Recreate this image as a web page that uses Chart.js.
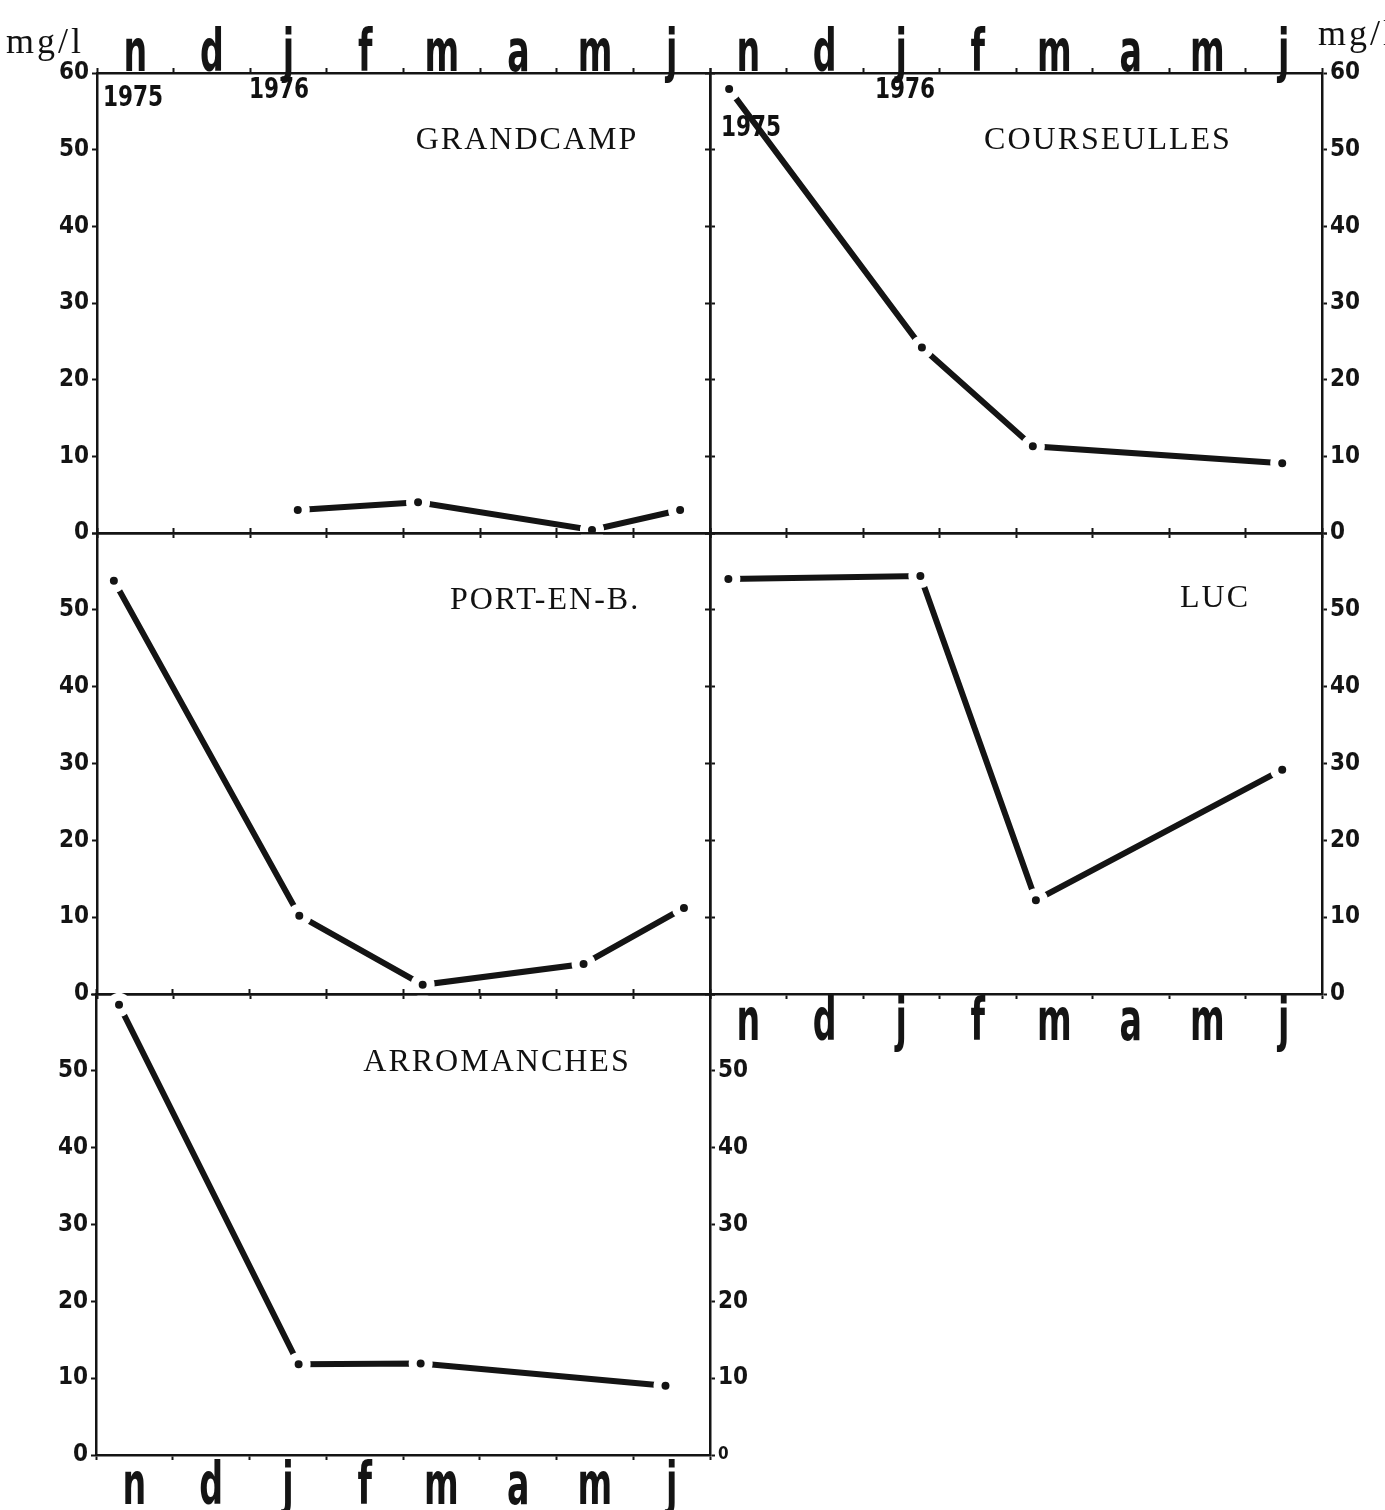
<!DOCTYPE html>
<html><head><meta charset="utf-8">
<script src="https://cdn.jsdelivr.net/npm/chart.js@4.4.1/dist/chart.umd.min.js"></script>
<style>
html,body{margin:0;padding:0;background:#fff;overflow:hidden;width:1385px;height:1510px;position:relative;}
canvas{position:absolute;}
.t{position:absolute;font-family:"Liberation Serif","DejaVu Serif",serif;color:#111;white-space:nowrap;transform:translate(-50%,-50%);font-size:32px;letter-spacing:2px;}
.yr{position:absolute;font-family:"Liberation Sans Narrow","DejaVu Sans Condensed",sans-serif;font-weight:bold;color:#111;white-space:nowrap;transform:translate(-50%,-50%) scaleY(1.15);font-size:24px;}
.mg{position:absolute;font-family:"Liberation Serif","DejaVu Serif",serif;color:#111;font-size:36px;letter-spacing:3px;white-space:nowrap;}
</style></head><body>
<script>
// ---- data ----
const months = ['n','d','j','f','m','a','m','j'];
const monthEdges = [0,1,2,3,4,5,6,7,8];
const yTicks = [0,10,20,30,40,50,60];

const grandcampX = [2.62, 4.19, 6.46, 7.61];
const grandcampY = [3.0, 4.0, 0.4, 3.0];

const courseullesX = [0.25, 2.77, 4.22, 7.48];
const courseullesY = [57.9, 24.2, 11.3, 9.1];

const portX = [0.22, 2.64, 4.25, 6.35, 7.66];
const portY = [53.8, 10.2, 1.2, 3.9, 11.2];

const lucX = [0.24, 2.75, 4.26, 7.48];
const lucY = [54.0, 54.4, 12.2, 29.2];

const arroX = [0.30, 2.64, 4.23, 7.42];
const arroY = [58.6, 11.8, 11.9, 9.0];

const titles = ['GRANDCAMP','COURSEULLES','PORT-EN-B.','LUC','ARROMANCHES'];
const years = ['1975','1976'];
const unit = 'mg/l';

// ---- drawing ----
const INK = '#141414';
const NARROW = '"Liberation Sans Narrow","DejaVu Sans Condensed",sans-serif';
const PADX = 100, PADY = 80;

const monthPlugin = {
  id: 'monthLabels',
  afterDraw(chart, args, opts) {
    if (!opts || !opts.where) return;
    const xs = chart.scales.x, ca = chart.chartArea, ctx = chart.ctx;
    ctx.save();
    ctx.fillStyle = INK;
    ctx.font = 'bold 37px ' + NARROW;
    ctx.textAlign = 'center';
    ctx.textBaseline = 'alphabetic';
    months.forEach((m, i) => {
      const x = xs.getPixelForValue((monthEdges[i] + monthEdges[i + 1]) / 2);
      const y = opts.where === 'top' ? ca.top - 2 : ca.bottom + opts.offset;
      ctx.save();
      ctx.translate(x, y);
      ctx.scale(1, 1.6);
      ctx.fillText(m, 0, 0);
      ctx.restore();
    });
    ctx.restore();
  }
};

function xAxis(pos) {
  return {
    type: 'linear', position: pos, min: 0, max: 8,
    afterBuildTicks: s => { s.ticks = monthEdges.map(v => ({ value: v })); },
    ticks: { display: false },
    grid: { drawOnChartArea: false, drawTicks: true, tickLength: 5, tickColor: INK, tickWidth: 2 },
    border: { display: true, color: INK, width: 2.5 },
    afterFit: s => { s.height = PADY; }
  };
}
function yAxis(pos, show, maxLabel, smallZero) {
  return {
    type: 'linear', position: pos, min: 0, max: 60,
    afterBuildTicks: s => { s.ticks = yTicks.map(v => ({ value: v })); },
    ticks: {
      display: show, color: INK, padding: 3,
      font: c => ({ family: NARROW, weight: 'bold', size: (smallZero && c.tick && c.tick.value === 0) ? 17 : 24 }),
      callback: v => (v <= maxLabel ? String(v) : '')
    },
    grid: { drawOnChartArea: false, drawTicks: true, tickLength: 5, tickColor: INK, tickWidth: 2 },
    border: { display: true, color: INK, width: 2.5 },
    afterFit: s => { s.width = PADX; }
  };
}

function panel(rect, xs, ys, cfg) {
  const cv = document.createElement('canvas');
  cv.width = rect.w + 2 * PADX; cv.height = rect.h + 2 * PADY;
  cv.style.left = (rect.l - PADX) + 'px'; cv.style.top = (rect.t - PADY) + 'px';
  cv.style.width = cv.width + 'px'; cv.style.height = cv.height + 'px';
  document.body.appendChild(cv);
  new Chart(cv, {
    type: 'scatter',
    data: { datasets: [{
      data: xs.map((x, i) => ({ x: x, y: ys[i] })),
      showLine: true, borderColor: INK, borderWidth: 6, borderCapStyle: 'round',
      pointRadius: 8, pointBackgroundColor: INK, pointBorderColor: '#fff', pointBorderWidth: 8,
      tension: 0, clip: false
    }]},
    options: {
      responsive: false, animation: false, devicePixelRatio: 1,
      layout: { padding: 0, autoPadding: false },
      plugins: { legend: { display: false }, tooltip: { enabled: false },
                 monthLabels: cfg.months || {} },
      scales: {
        x: xAxis('bottom'),
        xTop: xAxis('top'),
        y: yAxis('left', cfg.left, cfg.leftMax, false),
        yR: yAxis('right', cfg.right, cfg.rightMax, cfg.smallZero)
      }
    },
    plugins: [monthPlugin]
  });
}

panel({ l: 97, t: 73, w: 613, h: 460 }, grandcampX, grandcampY,
  { left: true, leftMax: 60, right: false, rightMax: 60, months: { where: 'top' } });
panel({ l: 710, t: 73, w: 612, h: 460 }, courseullesX, courseullesY,
  { left: false, leftMax: 60, right: true, rightMax: 60, months: { where: 'top' } });
panel({ l: 97, t: 533, w: 613, h: 461 }, portX, portY,
  { left: true, leftMax: 50, right: false, rightMax: 50 });
panel({ l: 710, t: 533, w: 612, h: 461 }, lucX, lucY,
  { left: false, leftMax: 50, right: true, rightMax: 50, months: { where: 'bottom', offset: 46 } });
panel({ l: 96, t: 994, w: 614, h: 461 }, arroX, arroY,
  { left: true, leftMax: 50, right: true, rightMax: 50, smallZero: true, months: { where: 'bottom', offset: 49 } });

// ---- text overlays ----
function txt(cls, s, x, y) {
  const d = document.createElement('div');
  d.className = cls; d.textContent = s;
  d.style.left = x + 'px'; d.style.top = y + 'px';
  document.body.appendChild(d);
}
txt('t', titles[0], 527, 138);
txt('t', titles[1], 1108, 138);
txt('t', titles[2], 545, 598);
txt('t', titles[3], 1215, 596);
txt('t', titles[4], 497, 1060);
txt('yr', years[0], 133, 97);
txt('yr', years[1], 279, 89);
txt('yr', years[1], 905, 89);
txt('yr', years[0], 751, 127);
txt('mg', unit, 6, 20);
txt('mg', unit, 1318, 12);
</script>
</body></html>
